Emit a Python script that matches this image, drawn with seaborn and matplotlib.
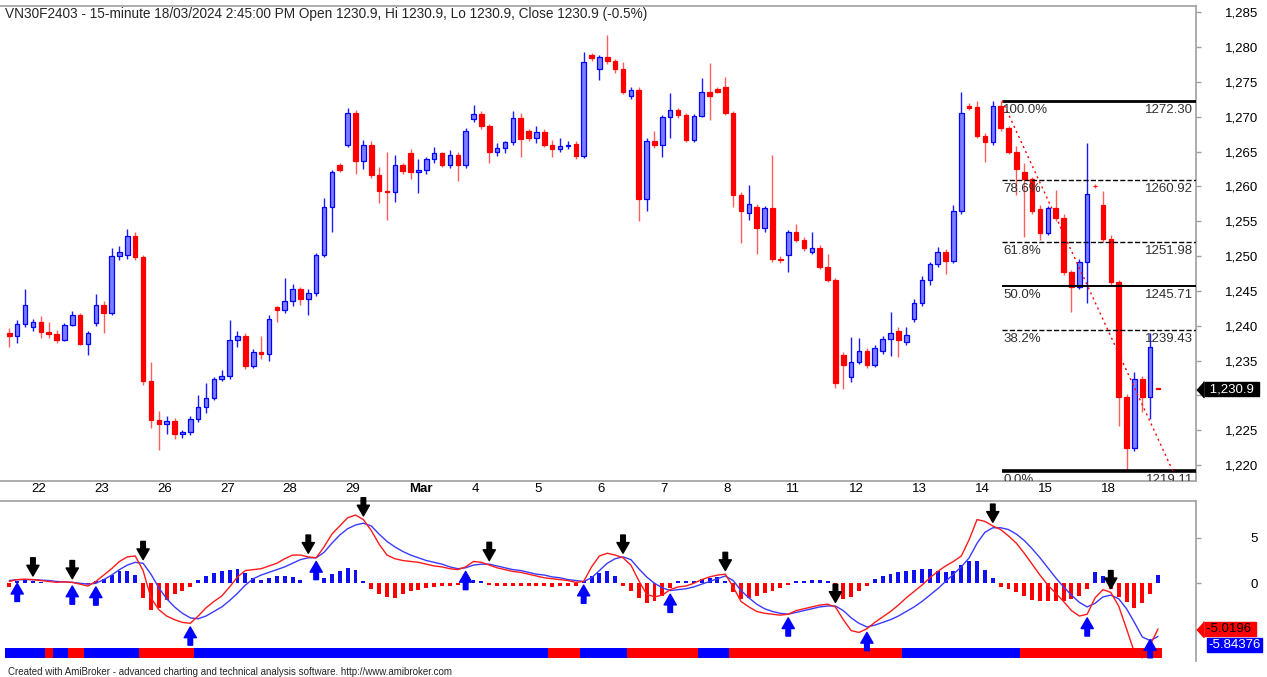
import numpy as np
import pandas as pd
import seaborn as sns
import matplotlib.pyplot as plt
from matplotlib import transforms
from matplotlib.ticker import FixedLocator, StrMethodFormatter

# ---------------- data ----------------
symbol = "VN30F2403"
interval = "15-minute"
last_stamp = "18/03/2024 2:45:00 PM"

day_labels = ["22", "23", "26", "27", "28", "29", "Mar", "4", "5", "6", "7", "8",
              "11", "12", "13", "14", "15", "18"]
bars_per_day = 8      # sessions compressed to 8 bars each
lead_bars = 3         # tail of the 21st before the first label

opens = [
    1239.0, 1238.5, 1240.2,
    1239.8, 1240.6, 1239.1, 1238.8, 1238.0, 1240.1, 1241.6, 1237.4,  # 22
    1240.4, 1243.0, 1241.8, 1250.0, 1250.2, 1252.9, 1249.9, 1232.0,  # 23
    1226.5, 1225.9, 1226.3, 1224.4, 1224.7, 1226.6, 1228.4, 1229.6,  # 26
    1232.3, 1232.8, 1237.9, 1238.5, 1234.2, 1236.2, 1236.0, 1242.7,  # 27
    1242.2, 1243.6, 1245.2, 1243.8, 1244.7, 1250.1, 1257.0, 1263.0,  # 28
    1266.0, 1270.5, 1263.6, 1266.0, 1261.6, 1259.4, 1259.2, 1263.1,  # 29
    1264.8, 1262.0, 1262.4, 1263.9, 1264.8, 1263.1, 1264.5, 1263.0,  # Mar
    1269.6, 1270.4, 1268.6, 1264.9, 1265.5, 1266.3, 1269.8, 1268.0,  # 4
    1267.0, 1267.8, 1266.0, 1265.3, 1265.8, 1266.1, 1264.4, 1278.9,  # 5
    1276.8, 1278.5, 1278.0, 1276.8, 1272.9, 1273.8, 1258.2, 1266.5,  # 6
    1265.9, 1269.9, 1270.9, 1270.2, 1266.7, 1270.1, 1273.6, 1274.0,  # 7
    1274.2, 1270.5, 1258.8, 1256.2, 1257.0, 1254.0, 1256.9, 1249.6,  # 8
    1250.1, 1253.4, 1252.3, 1250.6, 1251.2, 1248.4, 1246.6, 1235.8,  # 11
    1232.6, 1234.8, 1236.4, 1234.4, 1236.3, 1238.1, 1239.3, 1237.6,  # 12
    1240.9, 1243.2, 1246.6, 1248.8, 1250.6, 1249.3, 1256.5, 1271.5,  # 13
    1271.4, 1267.3, 1266.4, 1271.5, 1268.4, 1264.9, 1262.0, 1261.0,  # 14
    1256.8, 1253.3, 1256.9, 1255.5, 1247.7, 1245.6, 1249.2, 1260.1,  # 15
    1257.3, 1252.4, 1246.3, 1229.8, 1222.4, 1232.3, 1229.8, 1230.9,  # 18
]
highs = [
    1239.6, 1240.8, 1245.2,
    1241.0, 1241.4, 1240.5, 1239.4, 1240.4, 1242.1, 1241.8, 1239.2,
    1244.5, 1243.5, 1251.1, 1251.5, 1253.9, 1253.4, 1250.2, 1234.8,
    1227.8, 1227.0, 1226.8, 1225.0, 1227.0, 1230.0, 1231.8, 1232.6,
    1233.6, 1240.8, 1239.3, 1239.0, 1236.6, 1238.5, 1241.5, 1242.9,
    1246.8, 1246.0, 1245.6, 1245.3, 1250.5, 1258.3, 1262.3, 1263.4,
    1271.2, 1270.9, 1266.6, 1266.5, 1262.8, 1265.0, 1264.5, 1263.4,
    1265.3, 1264.0, 1264.2, 1265.6, 1265.0, 1265.2, 1265.0, 1268.4,
    1271.7, 1270.8, 1268.9, 1266.2, 1266.5, 1270.8, 1270.5, 1268.3,
    1268.6, 1268.2, 1266.6, 1266.9, 1266.5, 1266.5, 1279.3, 1279.2,
    1278.8, 1281.7, 1278.3, 1277.9, 1274.3, 1274.2, 1267.0, 1268.0,
    1270.3, 1273.4, 1271.3, 1270.5, 1270.4, 1275.5, 1277.7, 1274.2,
    1275.7, 1270.8, 1259.2, 1260.2, 1257.5, 1257.2, 1264.5, 1250.0,
    1253.8, 1254.6, 1252.8, 1253.5, 1251.6, 1250.3, 1246.8, 1236.2,
    1238.4, 1238.3, 1236.8, 1237.2, 1238.5, 1241.9, 1239.8, 1239.8,
    1243.9, 1247.2, 1249.2, 1251.3, 1251.0, 1257.3, 1273.6, 1272.0,
    1272.3, 1267.6, 1272.3, 1272.2, 1268.7, 1265.8, 1263.3, 1261.3,
    1257.3, 1257.2, 1259.5, 1256.0, 1248.0, 1249.6, 1266.2, 1260.3,
    1259.3, 1253.0, 1246.5, 1230.2, 1233.3, 1232.8, 1238.9, 1230.9,
]
lows = [
    1236.9, 1237.5, 1239.8,
    1239.3, 1238.2, 1238.3, 1237.5, 1237.8, 1239.9, 1237.2, 1235.8,
    1240.0, 1238.9, 1241.5, 1249.5, 1249.6, 1249.5, 1231.5, 1225.3,
    1222.2, 1224.5, 1223.8, 1223.9, 1224.3, 1226.2, 1227.5, 1229.3,
    1232.0, 1232.4, 1237.0, 1233.8, 1233.9, 1235.2, 1235.0, 1240.5,
    1241.8, 1242.9, 1243.0, 1241.6, 1244.3, 1249.8, 1253.5, 1262.0,
    1265.6, 1261.8, 1262.5, 1261.2, 1257.6, 1255.2, 1257.8, 1261.8,
    1261.0, 1259.0, 1261.8, 1263.4, 1262.8, 1262.6, 1260.7, 1262.6,
    1269.2, 1268.3, 1263.4, 1264.3, 1264.8, 1265.9, 1264.2, 1266.5,
    1266.2, 1265.6, 1264.2, 1265.0, 1265.3, 1263.9, 1264.1, 1278.0,
    1275.2, 1277.5, 1276.3, 1273.3, 1272.6, 1255.0, 1256.5, 1265.5,
    1264.2, 1267.0, 1269.8, 1266.4, 1266.3, 1269.9, 1269.5, 1273.4,
    1270.3, 1257.0, 1251.9, 1255.2, 1250.3, 1253.5, 1249.2, 1249.0,
    1247.7, 1252.0, 1250.7, 1250.3, 1248.2, 1246.3, 1231.1, 1230.9,
    1231.9, 1234.5, 1233.9, 1234.1, 1236.0, 1235.6, 1235.5, 1237.2,
    1240.5, 1242.8, 1245.9, 1248.4, 1247.4, 1249.0, 1256.0, 1271.0,
    1267.0, 1263.5, 1266.0, 1268.0, 1264.6, 1258.8, 1252.7, 1256.0,
    1252.3, 1253.0, 1255.0, 1247.3, 1242.0, 1245.2, 1243.3, 1259.8,
    1252.0, 1245.9, 1225.6, 1219.11, 1222.0, 1227.6, 1226.6, 1230.9,
]
closes = [
    1238.5, 1240.2, 1243.0,
    1240.6, 1239.1, 1238.8, 1238.0, 1240.1, 1241.6, 1237.4, 1238.9,
    1243.0, 1241.8, 1250.0, 1250.6, 1252.9, 1249.9, 1232.0, 1226.5,
    1225.9, 1226.3, 1224.4, 1224.7, 1226.6, 1228.4, 1229.6, 1232.3,
    1232.8, 1237.9, 1238.5, 1234.2, 1236.2, 1236.0, 1241.0, 1242.2,
    1243.6, 1245.2, 1243.8, 1244.7, 1250.1, 1257.0, 1262.0, 1262.4,
    1270.5, 1263.6, 1266.0, 1261.6, 1259.4, 1259.2, 1263.1, 1262.2,
    1262.0, 1262.4, 1263.9, 1264.8, 1263.1, 1264.5, 1263.0, 1267.9,
    1270.4, 1268.6, 1264.9, 1265.5, 1266.3, 1269.8, 1266.8, 1267.0,
    1267.8, 1266.0, 1265.3, 1265.8, 1266.0, 1264.4, 1277.8, 1278.4,
    1278.5, 1278.0, 1276.8, 1273.6, 1273.8, 1258.2, 1266.5, 1265.9,
    1269.9, 1270.9, 1270.2, 1266.7, 1270.1, 1273.6, 1273.0, 1273.6,
    1270.5, 1258.8, 1256.4, 1257.4, 1254.0, 1256.9, 1249.6, 1249.4,
    1253.4, 1252.3, 1251.2, 1251.1, 1248.4, 1246.6, 1231.8, 1234.4,
    1234.8, 1236.4, 1234.4, 1236.8, 1238.1, 1238.9, 1238.0, 1238.7,
    1243.2, 1246.6, 1248.8, 1250.6, 1249.3, 1256.5, 1270.6, 1271.3,
    1267.3, 1266.4, 1271.5, 1268.4, 1264.9, 1262.5, 1261.0, 1256.4,
    1253.3, 1256.9, 1255.5, 1247.7, 1245.6, 1249.2, 1258.9, 1260.0,
    1252.4, 1246.3, 1229.8, 1222.4, 1232.3, 1229.8, 1237.0, 1230.9,
]

macd_line = [
    0.2, 0.4, 0.45,
    0.4, 0.3, 0.2, 0.1, 0.15, 0.1, -0.1, -0.3,
    0.2, 0.9, 1.6, 2.4, 2.9, 3.0, 1.4, -1.6,
    -2.9, -3.6, -4.0, -4.3, -4.4, -3.6, -2.7, -2.0,
    -1.4, -0.4, 0.7, 1.4, 1.5, 1.6, 1.9, 2.2,
    2.7, 3.1, 3.1, 2.9, 2.8, 4.0, 5.4, 6.3,
    7.2, 7.5, 7.0, 5.8, 4.3, 3.1, 2.7, 2.5,
    2.4, 2.3, 2.1, 1.9, 1.8, 1.6, 1.5, 1.8,
    2.4, 2.3, 2.0, 1.7, 1.5, 1.3, 1.2, 1.0,
    0.8, 0.6, 0.5, 0.4, 0.3, 0.1, 0.2, 1.8,
    3.0, 3.3, 3.1, 2.8, 2.0, 0.3, -1.2, -1.5,
    -1.3, -0.7, -0.4, -0.3, 0.0, 0.4, 0.7, 0.9,
    1.0, -0.4, -2.0, -2.6, -3.1, -3.3, -3.4, -3.5,
    -3.4, -3.0, -2.8, -2.6, -2.4, -2.3, -2.6, -4.0,
    -5.2, -5.4, -5.0, -4.3, -3.7, -3.1, -2.4, -1.6,
    -0.9, -0.2, 0.6, 1.3, 1.9, 2.4, 3.0, 4.8,
    7.0, 6.8, 6.3, 5.9, 5.2, 4.4, 3.3, 2.1,
    0.9, -0.2, -1.1, -2.0, -3.0, -3.6, -3.4, -1.6,
    -0.7, -1.0, -2.5, -5.0, -7.6, -8.2, -6.8, -5.0196,
]
signal_line = [
    0.3, 0.4, 0.4,
    0.4, 0.35, 0.3, 0.2, 0.15, 0.1, 0.0, -0.1,
    0.0, 0.4, 0.9, 1.5, 2.0, 2.3, 2.2, 1.0,
    -0.5, -1.7, -2.6, -3.3, -3.8, -3.9, -3.6, -3.1,
    -2.6, -1.9, -1.1, -0.2, 0.5, 0.9, 1.2, 1.5,
    1.8, 2.2, 2.6, 2.8, 2.8, 3.4, 4.4, 5.3,
    6.0, 6.4, 6.6, 6.3, 5.4, 4.6, 4.0, 3.5,
    3.1, 2.8, 2.5, 2.3, 2.1, 1.8, 1.6, 1.7,
    2.0, 2.1, 2.1, 1.9, 1.7, 1.5, 1.4, 1.2,
    1.0, 0.9, 0.7, 0.6, 0.4, 0.3, 0.2, 0.6,
    1.4, 2.2, 2.7, 2.9, 2.6, 1.6, 0.7, 0.0,
    -0.5, -0.8, -0.7, -0.6, -0.4, -0.1, 0.2, 0.5,
    0.8, 0.3, -0.8, -1.6, -2.3, -2.8, -3.1, -3.3,
    -3.4, -3.2, -3.0, -2.8, -2.6, -2.5, -2.5, -3.0,
    -3.8, -4.4, -4.8, -4.6, -4.3, -4.0, -3.6, -3.1,
    -2.6, -2.0, -1.3, -0.6, 0.2, 1.0, 1.8, 2.8,
    4.4, 5.6, 6.1, 6.1, 5.9, 5.4, 4.7, 3.8,
    2.8, 1.7, 0.6, -0.4, -1.3, -2.1, -2.6, -2.2,
    -1.5, -1.3, -1.7, -2.8, -4.3, -5.9, -6.3, -5.84376,
]
macd_hist = [
    -0.4, 0.3, 0.35,
    0.3, 0.1, 0.05, 0.05, 0.05, 0.02, -0.05, -0.1,
    0.2, 0.5, 0.9, 1.3, 1.3, 0.9, -1.6, -2.9,
    -2.7, -1.8, -1.2, -0.9, -0.4, 0.4, 0.8, 1.1,
    1.4, 1.5, 1.6, 1.1, 0.6, 0.4, 0.6, 0.8,
    0.8, 0.7, 0.4, 0.05, 0.05, 0.6, 1.0, 1.4,
    1.7, 1.5, 0.3, -0.6, -1.2, -1.5, -1.6, -1.2,
    -0.9, -0.7, -0.5, -0.4, -0.35, -0.3, -0.2, 0.3,
    0.4, 0.3, -0.2, -0.3, -0.3, -0.3, -0.35, -0.3,
    -0.3, -0.35, -0.4, -0.35, -0.3, -0.3, 0.3, 0.8,
    1.1, 1.3, 0.8, -0.3, -0.9, -1.6, -2.2, -2.0,
    -1.4, -0.5, 0.2, 0.3, 0.3, 0.5, 0.6, 0.7,
    0.3, -1.0, -1.7, -1.6, -1.4, -1.1, -0.8, -0.5,
    -0.2, 0.2, 0.3, 0.35, 0.4, 0.2, -1.0, -1.7,
    -1.5, -0.9, -0.3, 0.5, 0.8, 1.0, 1.2, 1.4,
    1.5, 1.6, 1.6, 1.3, 1.2, 1.3, 2.0, 2.5,
    2.4, 1.5, 0.6, -0.4, -0.6, -1.0, -1.4, -1.8,
    -1.9, -2.0, -2.0, -1.9, -1.7, -1.4, -0.6, 1.2,
    0.8, -0.6, -1.5, -2.1, -2.7, -2.2, -1.2, 0.9,
]

sell_bars = [3, 8, 17, 38, 45, 61, 78, 91, 105, 125, 140]
buy_bars = [1, 8, 11, 23, 39, 58, 73, 84, 99, 109, 137, 145]

ribbon_states = ["up", "dn", "up", "dn", "up", "dn", "up", "dn", "up", "dn", "up", "dn", "up", "dn"]
ribbon_runs = [5, 1, 2, 2, 7, 7, 45, 4, 6, 9, 4, 22, 15, 18]

fib_high = 1272.30
fib_low = 1219.11
fib_ratios = [1.0, 0.786, 0.618, 0.5, 0.382, 0.0]

# ---------------- styling ----------------
sns.set_theme(style="white")
plt.rcParams["font.family"] = ["Liberation Sans", "DejaVu Sans"]

BLUE, BLUE_FILL, RED, RED_WICK = "#0000ff", "#7c7cff", "#ff0000", "#ff5c5c"
FRAME = "#a0a0a0"

bars = pd.DataFrame({"open": opens, "high": highs, "low": lows, "close": closes})
bars["idx"] = np.arange(len(bars))
up = (bars["close"] > bars["open"]).to_numpy()
idx = bars["idx"].to_numpy()

W, H = 1267, 677
fig = plt.figure(figsize=(W / 100, H / 100), dpi=100)


def px_axes(left, top, right, bottom, **kw):
    return fig.add_axes([left / W, 1 - bottom / H, (right - left) / W, (bottom - top) / H], **kw)


ax = px_axes(0, 6, 1196, 481)
ax2 = px_axes(0, 501, 1196, 661, sharex=ax)

tick_pos = lead_bars - 0.5 + bars_per_day * np.arange(len(day_labels))
ppb = (1099 - 29) / (tick_pos[-1] - tick_pos[0])
ax.set_xlim(tick_pos[0] - 29 / ppb, tick_pos[0] + (1196 - 29) / ppb)
ax.set_ylim(1217.71, 1285.89)
ax2.set_ylim(-8.54, 9.04)

# candles
ax.vlines(idx, bars["low"], bars["high"], colors=np.where(up, "#1a1aff", RED_WICK), lw=1.0, zorder=2)
body_low = np.minimum(bars["open"], bars["close"])
body_h = np.maximum((bars["close"] - bars["open"]).abs(), 0.12)
ax.bar(idx, body_h, bottom=body_low, width=0.58, color=np.where(up, BLUE_FILL, RED),
       edgecolor=np.where(up, BLUE, RED), linewidth=0.9, zorder=3)

# fibonacci retracement
fib_start = 126.2
x_end = ax.get_xlim()[1]
fib_style = {1.0: ("-", 2.0), 0.786: ("--", 1.0), 0.618: ("--", 1.0),
             0.5: ("-", 1.4), 0.382: ("--", 1.0), 0.0: ("-", 2.6)}
below = transforms.offset_copy(ax.transData, fig=fig, x=1, y=-3, units="dots")
right_edge = transforms.blended_transform_factory(ax.transAxes, ax.transData)
right_below = transforms.offset_copy(right_edge, fig=fig, x=-3, y=-3, units="dots")
for r in fib_ratios:
    lvl = fib_low + r * (fib_high - fib_low)
    ls, lw = fib_style[r]
    ax.hlines(lvl, fib_start, x_end, colors="black", linestyles=ls, lw=lw, zorder=4)
    ax.text(fib_start, lvl, f"{r * 100:.1f}%", transform=below, ha="left", va="top",
            fontsize=9.5, color="#303030", clip_on=True, zorder=5)
    ax.text(1.0, lvl, f"{lvl + 1e-7:.2f}", transform=right_below, ha="right", va="top",
            fontsize=9.5, color="#303030", clip_on=True, zorder=5)
ax.plot([fib_start, 147.9], [fib_high, fib_low], color=RED, ls=(0, (1.5, 2.5)), lw=1.0, zorder=4)

# MACD pane
hist = np.array(macd_hist)
ax2.bar(idx, hist, width=0.5, color=np.where(hist >= 0, "#1010f0", RED), linewidth=0, zorder=2)
sns.lineplot(x=idx, y=signal_line, ax=ax2, color="#3a3aff", lw=1.0, zorder=3)
sns.lineplot(x=idx, y=macd_line, ax=ax2, color="#ff1a1a", lw=1.0, zorder=4)
ribbon = np.repeat(ribbon_states, ribbon_runs)
ax2.bar(idx, 1.1, bottom=-8.2, width=1.02, color=np.where(ribbon == "up", BLUE, RED),
        linewidth=0, zorder=5)

arrow_kw = dict(arrowstyle="simple,head_length=0.7,head_width=0.8,tail_width=0.3",
                shrinkA=0, shrinkB=0, mutation_scale=11)
y_floor = ax2.get_ylim()[0] + 0.35
for i in sell_bars:
    top = max(macd_line[i], signal_line[i])
    ax2.annotate("", xy=(i, top + 0.4), xytext=(i, top + 2.4), annotation_clip=False, zorder=6,
                 arrowprops=dict(fc="black", ec="black", **arrow_kw))
for i in buy_bars:
    bot = min(macd_line[i], signal_line[i])
    tail = max(bot - 2.4, y_floor)
    ax2.annotate("", xy=(i, tail + 2.0), xytext=(i, tail), annotation_clip=False,
                 zorder=6, arrowprops=dict(fc=BLUE, ec=BLUE, **arrow_kw))

# axes frames and ticks
for a in (ax, ax2):
    a.set_facecolor("white")
    a.spines["left"].set_visible(False)
    for s in ("top", "right", "bottom"):
        a.spines[s].set_color(FRAME)
        a.spines[s].set_linewidth(1.2)
    a.yaxis.tick_right()
    a.tick_params(axis="y", direction="out", length=3.6, width=1, color=FRAME,
                  labelsize=9.5, labelcolor="black", pad=41)
    a.set_xlabel("")
    a.set_ylabel("")
ax2.spines["bottom"].set_visible(False)

ax.yaxis.set_major_locator(FixedLocator(np.arange(1220, 1286, 5)))
ax.yaxis.set_major_formatter(StrMethodFormatter("{x:,.0f}"))
ax2.yaxis.set_major_locator(FixedLocator([-5, 0, 5]))
ax2.yaxis.set_major_formatter(StrMethodFormatter("{x:.0f}"))

ax.set_xticks(tick_pos)
ax.set_xticklabels(day_labels)
ax.tick_params(axis="x", direction="out", length=3.6, width=1, color=FRAME,
               labelsize=9.5, labelcolor="black", pad=-2)
nudge = transforms.ScaledTranslation(0.02, 0, fig.dpi_scale_trans)
for lbl in ax.get_xticklabels():
    lbl.set_ha("left")
    lbl.set_transform(lbl.get_transform() + nudge)
    if lbl.get_text() == "Mar":
        lbl.set_fontweight("bold")
ax2.tick_params(axis="x", bottom=False, labelbottom=False)

# value tags on the right edge (they sit over the axis labels they cover)
arrow_head = [(-0.45, 0), (0.45, -1), (0.45, 1)]


def side_tag(axis, value, text, face, ink, arrow=True, dx=0.10):
    trans = transforms.blended_transform_factory(axis.transAxes, axis.transData)
    axis.text(1.0, value, text, transform=trans + transforms.ScaledTranslation(dx, 0, fig.dpi_scale_trans),
              ha="left", va="center", fontsize=9.5, color=ink, zorder=20, clip_on=False,
              bbox=dict(boxstyle="square,pad=0.1", fc=face, ec=face))
    if arrow:
        axis.plot([1.0], [value], transform=trans + transforms.ScaledTranslation(0.036, 0, fig.dpi_scale_trans),
                  marker=arrow_head, ms=11.5, color=face, clip_on=False, zorder=20)


last = bars.iloc[-1]
side_tag(ax, last["close"], f" {last['close']:,.1f} ", "black", "white")
side_tag(ax2, macd_line[-1], f"{macd_line[-1]:g} ", RED, "black")
side_tag(ax2, min(signal_line[-1], macd_line[-1] - 1.75), f"{signal_line[-1]:g}", BLUE, "white",
         arrow=False, dx=0.12)

fig.canvas.draw()
hidden = {"1,230", "-5", "−5"}
for a in (ax, ax2):
    for lbl in a.get_yticklabels():
        lbl.set_ha("right")
        if lbl.get_text() in hidden:
            lbl.set_visible(False)

prev_close = bars["close"].iloc[-2]
pct = (last["close"] - prev_close) / prev_close * 100
title = (f"{symbol} - {interval} {last_stamp} Open {last['open']:.1f}, Hi {last['high']:.1f}, "
         f"Lo {last['low']:.1f}, Close {last['close']:.1f} ({pct:+.1f}%)")
fig.text(5 / W, 1 - 14 / H, title, fontsize=9.8, ha="left", va="center")
fig.text(8 / W, 1 - 672 / H,
         "Created with AmiBroker - advanced charting and technical analysis software. http://www.amibroker.com",
         fontsize=7, ha="left", va="center")

fig.savefig("out.png", dpi=100)
